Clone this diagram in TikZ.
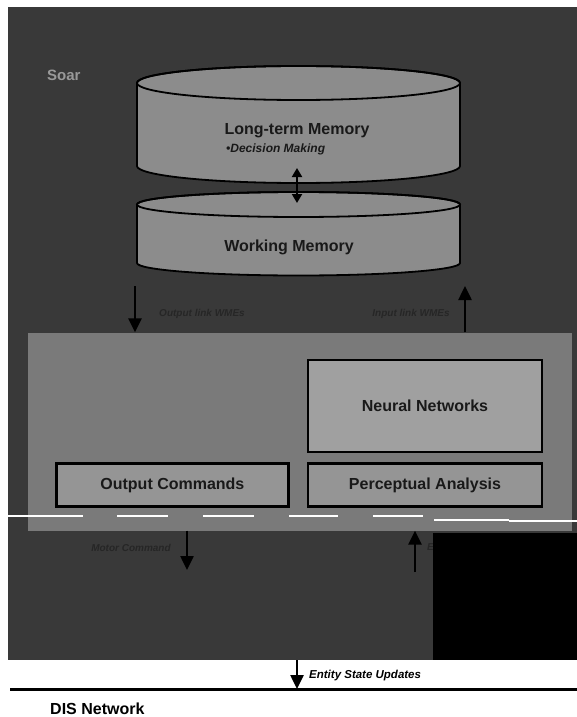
\documentclass[tikz,border=0pt]{standalone}
\usepackage{fontspec}
\setmainfont{Liberation Sans}
\usetikzlibrary{arrows.meta,positioning}

\definecolor{soarbg}{HTML}{393939}
\definecolor{panelgray}{HTML}{7A7A7A}
\definecolor{drumgray}{HTML}{8C8C8C}
\definecolor{boxgray}{HTML}{959595}
\definecolor{netgray}{HTML}{A0A0A0}

\tikzset{
  module/.style={draw=black, line width=2.6pt, fill=boxgray, inner sep=0pt,
    font=\fontsize{16}{18}\selectfont\bfseries, text=black!90},
  drumlabel/.style={font=\fontsize{16}{18}\selectfont\bfseries, text=black!90, inner sep=0pt},
  flow/.style={line width=2.5pt, -{Triangle[width=13pt,length=14pt]}},
  linklabel/.style={font=\fontsize{10}{12}\selectfont\bfseries\itshape, text=black!85, inner sep=0pt},
}

% cx, top y, bottom y, x radius, y radius
\newcommand{\drum}[5]{%
  \filldraw[fill=drumgray, line width=1.8pt] ({#1-#4},#2) -- ({#1-#4},#3)
    arc[start angle=180, end angle=0, x radius=#4, y radius=#5] -- ({#1+#4},#2)
    arc[start angle=0, end angle=-180, x radius=#4, y radius=#5] -- cycle;
  \draw[line width=1.8pt] (#1,#2) ellipse [x radius=#4, y radius=#5];}

\begin{document}
\begin{tikzpicture}[x=1pt, y=-1pt]
\useasboundingbox[fill=white] (0,0) rectangle (577,717);
\fill[soarbg] (8,7) rectangle (577,660);

\node[text=black!40, font=\fontsize{15}{17}\selectfont\bfseries, anchor=west, inner sep=0pt] (soar) at (47,75) {Soar};

\drum{298.5}{83}{166}{161.5}{17}
\drum{298.5}{204.5}{263}{161.5}{12.5}
\node[drumlabel] (ltm) at (297,131) {Long-term Memory};
\node[drumlabel, anchor=west, font=\fontsize{12}{14}\selectfont\bfseries\itshape] (ltm-note) at (226,149) {\textbullet Decision Making};
\node[drumlabel] (wm) at (289,247) {Working Memory};
\coordinate (ltm-base) at (297,168);
\coordinate (wm-top) at (297,203);
\draw[line width=2pt, {Triangle[width=10pt,length=9pt]}-{Triangle[width=10pt,length=9pt]}] (ltm-base) -- (wm-top);

\node[fill=panelgray, minimum width=544pt, minimum height=198pt, inner sep=0pt] (engine) at (300,431.5) {};
\node[module, fill=netgray, minimum width=234pt, minimum height=92pt] (nn) at (425,406) {Neural Networks};
\node[module, minimum width=234pt, minimum height=43pt, below=9pt of nn] (pa) {Perceptual Analysis};
\node[module, minimum width=232pt, minimum height=43pt, left=17pt of pa] (oc) {Output Commands};

\coordinate (outlink) at (135,286);
\coordinate (inlink) at (465,286);
\draw[flow] (outlink) -- (outlink |- engine.north);
\draw[flow] (inlink |- engine.north) -- (inlink);
\node[linklabel] (outlink-lbl) at (202,314) {Output link WMEs};
\node[linklabel] (inlink-lbl) at (411,314) {Input link WMEs};

\coordinate (motor) at (187,570);
\coordinate (sensed) at (415,572);
\draw[flow] (motor |- engine.south) -- (motor);
\draw[flow] (sensed) -- (sensed |- engine.south);
\node[linklabel] (motor-lbl) at (131,548) {Motor Command};
\node[linklabel, anchor=west] (sensed-lbl) at (427,548) {Entity State};

% blacked-out corner and scan streaks
\fill[black] (433,533) rectangle (577,660);
\foreach \a/\b in {8/83,117/168,203/254,289/338,373/423}
  \draw[white, line width=1.4pt] (\a,516) -- (\b,516);
\draw[white, line width=1.4pt] (434,520) -- (509,520) (509,521) -- (577,521);

\coordinate (esu) at (297,660);
\coordinate (dis-w) at (10,689);
\coordinate (dis-e) at (577,689);
\draw[line width=3pt] (dis-w) -- (dis-e);
\draw[flow] (esu) -- (esu |- dis-w);
\node[anchor=west, inner sep=0pt, font=\fontsize{11.5}{13}\selectfont\bfseries\itshape] (esu-lbl) at (309,676) {Entity State Updates};
\node[anchor=west, inner sep=0pt, font=\fontsize{16}{18}\selectfont\bfseries] (dis) at (50,709) {DIS Network};
\end{tikzpicture}
\end{document}
